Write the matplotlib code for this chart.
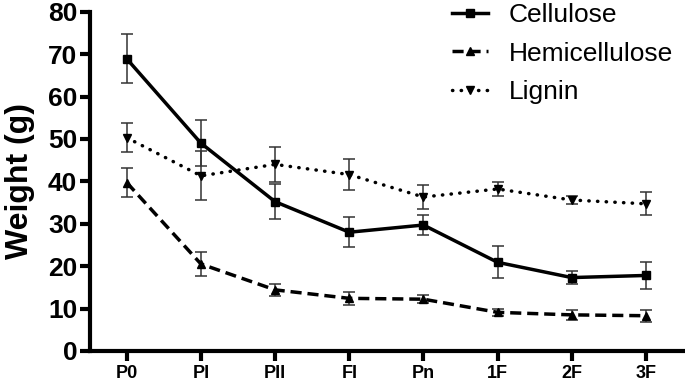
import matplotlib.pyplot as plt
import numpy as np

plt.rcParams['font.family'] = ['Liberation Sans', 'DejaVu Sans']

stages = ['P0', 'PI', 'PII', 'FI', 'Pn', '1F', '2F', '3F']

cellulose = [68.9, 49.0, 35.2, 28.0, 29.7, 20.9, 17.3, 17.8]
cellulose_err = [5.8, 5.4, 4.1, 3.5, 2.3, 3.8, 1.6, 3.2]

hemicellulose = [39.7, 20.5, 14.4, 12.4, 12.2, 9.1, 8.5, 8.3]
hemicellulose_err = [3.4, 2.8, 1.5, 1.6, 1.0, 0.9, 1.1, 1.4]

lignin = [50.3, 41.3, 44.0, 41.6, 36.3, 38.2, 35.6, 34.7]
lignin_err = [3.4, 5.8, 4.1, 3.6, 2.8, 1.7, 1.0, 2.7]

x = np.arange(len(stages))

fig = plt.figure(figsize=(6.85, 3.81), dpi=100)
ax = fig.add_axes([0.131, 0.079, 0.866, 0.89])

ekw = dict(ecolor='#333333', elinewidth=1.1, capsize=4, capthick=1.1)

c1 = ax.errorbar(x, cellulose, yerr=cellulose_err, color='black', lw=2.5,
                 marker='s', ms=6, label='Cellulose', **ekw)
c2 = ax.errorbar(x, hemicellulose, yerr=hemicellulose_err, color='black', lw=2.5,
                 linestyle=(0, (3.2, 1.7)), marker='^', ms=6,
                 label='Hemicellulose', **ekw)
c3 = ax.errorbar(x, lignin, yerr=lignin_err, color='black', lw=2.5,
                 linestyle=(0, (0.1, 2.4)), dash_capstyle='round', marker='v',
                 ms=6, label='Lignin', **ekw)

ax.set_xlim(-0.5, 7.5)
ax.set_ylim(0, 80)
ax.set_yticks(np.arange(0, 81, 10))
ax.set_xticks(x)
ax.set_xticklabels(stages, fontsize=13, fontweight='bold')
for lab in ax.get_yticklabels():
    lab.set_fontsize(19)
    lab.set_fontweight('bold')

ax.set_ylabel('Weight (g)', fontsize=23, fontweight='bold', labelpad=9)

for s in ['top', 'right']:
    ax.spines[s].set_visible(False)
for s in ['left', 'bottom']:
    ax.spines[s].set_linewidth(3)
ax.tick_params(axis='both', width=3, length=7, direction='out')
ax.tick_params(axis='x', pad=3)
ax.tick_params(axis='y', pad=2)

leg = ax.legend([c1[0], c2[0], c3[0]], ['Cellulose', 'Hemicellulose', 'Lignin'],
                loc='upper left', bbox_to_anchor=(452 / 685, 1 - 3 / 381),
                bbox_transform=fig.transFigure, frameon=False,
                fontsize=19, handlelength=1.35, handletextpad=0.8,
                labelspacing=0.55, borderpad=0, borderaxespad=0)

fig.savefig('out.png', dpi=100)
